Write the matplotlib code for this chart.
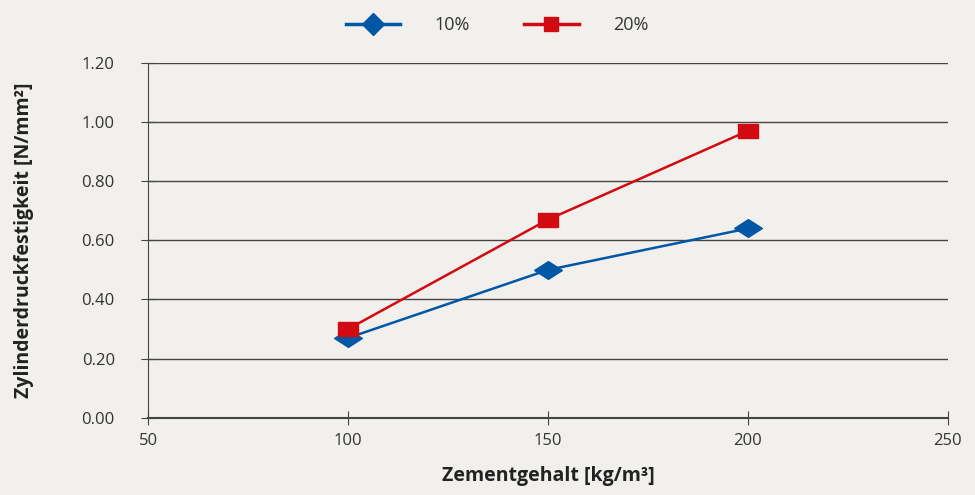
import matplotlib.pyplot as plt
from matplotlib.lines import Line2D

zement = [100, 150, 200]
fest_10 = [0.27, 0.50, 0.64]
fest_20 = [0.30, 0.67, 0.97]
series_labels = ['10%', '20%']

x_ticks = [50, 100, 150, 200, 250]
y_ticks = [0.0, 0.2, 0.4, 0.6, 0.8, 1.0, 1.2]

bg = '#f1f0ed'
blue = '#0057a6'
red = '#d20a11'
grid_col = '#444444'

# markers in the plot are a bit wider than tall
diamond = [(-1, 0), (0, 0.64), (1, 0), (0, -0.64), (-1, 0)]
square = [(-1, -0.7), (1, -0.7), (1, 0.7), (-1, 0.7), (-1, -0.7)]

plt.rcParams['font.family'] = ['Open Sans', 'DejaVu Sans']

fig = plt.figure(figsize=(9.75, 4.95), dpi=100, facecolor=bg)
ax = fig.add_axes([0.152, 0.156, 0.820, 0.717], facecolor=bg)

ax.plot(zement, fest_10, color=blue, lw=1.8, marker=diamond, markersize=20,
        zorder=3)
ax.plot(zement, fest_20, color=red, lw=1.8, marker=square, markersize=15,
        zorder=3)

ax.set_xlim(50, 250)
ax.set_ylim(0, 1.2)
ax.set_xticks(x_ticks)
ax.set_yticks(y_ticks)
ax.set_yticklabels(['%.2f' % v for v in y_ticks])
ax.yaxis.grid(True, color=grid_col, lw=1.0)
ax.set_axisbelow(True)

for side in ['top', 'right']:
    ax.spines[side].set_visible(False)
ax.spines['left'].set_color(grid_col)
ax.spines['bottom'].set_color(grid_col)
ax.spines['bottom'].set_linewidth(1.5)
ax.tick_params(axis='y', direction='inout', length=10, color=grid_col,
               labelsize=12, labelcolor='#333333', pad=19)
ax.tick_params(axis='x', direction='inout', length=10, color=grid_col,
               labelsize=12, labelcolor='#333333', pad=6)

ax.set_xlabel('Zementgehalt [kg/m³]', fontsize=14, fontweight='bold',
              color='#222222', labelpad=12)
ax.set_ylabel('Zylinderdruckfestigkeit [N/mm²]', fontsize=14, fontweight='bold',
              color='#222222', labelpad=34)

handles = [
    Line2D([], [], color=blue, lw=2.5, marker='D', markersize=11),
    Line2D([], [], color=red, lw=2.5, marker='s', markersize=10),
]
fig.legend(handles, series_labels, loc='upper center', bbox_to_anchor=(0.51, 1.0),
           ncol=2, frameon=False, fontsize=13, handlelength=3.0,
           columnspacing=3.0, handletextpad=1.9, labelcolor='#333333')

fig.savefig('out.png', dpi=100, facecolor=bg)
